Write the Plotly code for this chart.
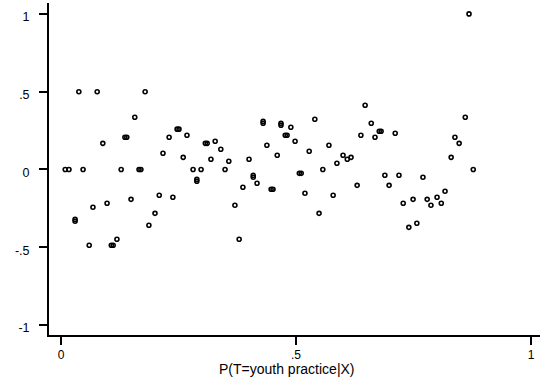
import plotly.graph_objects as go

# propensity score (x) and residual/outcome (y)
pscore = [0.009, 0.017, 0.030, 0.030, 0.038, 0.047, 0.060, 0.068, 0.077, 0.089,
          0.098, 0.107, 0.111, 0.119, 0.128, 0.136, 0.140, 0.149, 0.157, 0.166,
          0.170, 0.179, 0.187, 0.200, 0.209, 0.217, 0.230, 0.238, 0.247, 0.251,
          0.260, 0.268, 0.281, 0.289, 0.289, 0.298, 0.307, 0.311, 0.319, 0.328,
          0.340, 0.349, 0.357, 0.370, 0.379, 0.387, 0.400, 0.409, 0.409, 0.417,
          0.430, 0.430, 0.438, 0.447, 0.451, 0.460, 0.468, 0.468, 0.477, 0.481,
          0.489, 0.498, 0.507, 0.511, 0.519, 0.528, 0.540, 0.549, 0.557, 0.570,
          0.579, 0.587, 0.600, 0.609, 0.617, 0.630, 0.638, 0.647, 0.660, 0.668,
          0.677, 0.681, 0.689, 0.698, 0.711, 0.719, 0.728, 0.740, 0.749, 0.757,
          0.770, 0.779, 0.787, 0.800, 0.809, 0.817, 0.830, 0.838, 0.847, 0.860,
          0.868, 0.877]
value = [0.0, 0.0, -0.321, -0.333, 0.50, 0.0, -0.487, -0.243, 0.50, 0.168,
         -0.217, -0.487, -0.487, -0.449, 0.0, 0.207, 0.207, -0.192, 0.336, 0.0,
         0.0, 0.50, -0.359, -0.282, -0.166, 0.104, 0.207, -0.179, 0.259, 0.259,
         0.078, 0.220, 0.0, -0.064, -0.076, 0.0, 0.168, 0.168, 0.066, 0.181,
         0.130, 0.0, 0.053, -0.230, -0.449, -0.114, 0.066, -0.038, -0.050, -0.089,
         0.309, 0.297, 0.156, -0.127, -0.127, 0.091, 0.297, 0.285, 0.220, 0.220,
         0.271, 0.181, -0.025, -0.025, -0.153, 0.117, 0.323, -0.282, 0.0, 0.156,
         -0.166, 0.040, 0.091, 0.066, 0.078, -0.102, 0.220, 0.413, 0.297, 0.207,
         0.246, 0.246, -0.037, -0.102, 0.233, -0.037, -0.217, -0.372, -0.192, -0.346,
         -0.050, -0.192, -0.230, -0.179, -0.217, -0.140, 0.078, 0.207, 0.168, 0.336,
         1.0, 0.0]

xticks = [0, 0.5, 1]
xticklabels = ["0", ".5", "1"]
yticks = [-1, -0.5, 0, 0.5, 1]
yticklabels = ["-1", "-.5", "0", ".5", "1"]
xtitle = "P(T=youth practice|X)"

fig = go.Figure(go.Scatter(
    x=pscore, y=value, mode="markers",
    marker=dict(symbol="circle-open", size=4, color="black",
                line=dict(width=1.6, color="black")),
    showlegend=False,
))

family = "Liberation Sans, Arial, sans-serif"
ytickfont = dict(family=family, size=12.5, color="black")
xtickfont = dict(family=family, size=12, color="black")
titlefont = dict(family=family, size=14, color="black")
pad = "\u00a0" * 2  # gap between y tick labels and their tick marks

fig.update_layout(
    width=540, height=381,
    margin=dict(l=49, r=0, t=3, b=46),
    paper_bgcolor="white", plot_bgcolor="white",
    font=ytickfont,
    xaxis=dict(range=[-0.0255, 1.019], tickvals=xticks, ticktext=xticklabels,
               showgrid=False, zeroline=False, showline=True, linecolor="black",
               linewidth=2, ticks="outside", ticklen=8, tickwidth=1.5,
               tickcolor="black", tickfont=xtickfont),
    yaxis=dict(range=[-1.064, 1.07], tickvals=yticks,
               ticktext=[t + pad for t in yticklabels],
               showgrid=False, zeroline=False, showline=True, linecolor="black",
               linewidth=2, ticks="outside", ticklen=8, tickwidth=1.5,
               tickcolor="black", tickfont=ytickfont, ticklabelshift=3),
    annotations=[dict(text=xtitle, x=0.484, xref="paper",
                      y=(381 - 46 - 369) / (381 - 46 - 3), yref="paper",
                      yanchor="middle", showarrow=False, font=titlefont)],
)
fig.write_html("out.html")
